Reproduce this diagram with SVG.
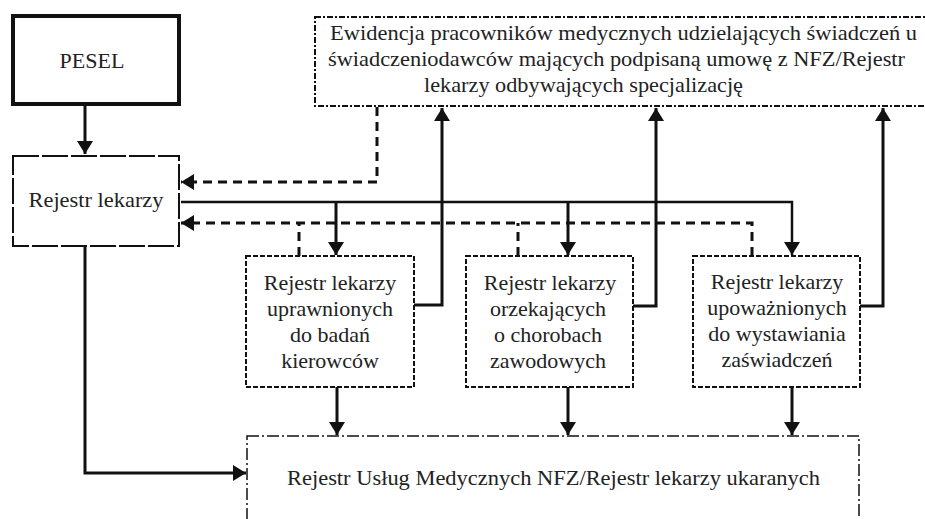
<svg xmlns="http://www.w3.org/2000/svg" width="925" height="519" viewBox="0 0 925 519">
  <defs>
    <marker id="arrow" markerUnits="userSpaceOnUse" markerWidth="14" markerHeight="16" refX="13" refY="8" orient="auto">
      <path d="M0,0 L13,8 L0,16 z" fill="#111"/>
    </marker>
    <style>
      text { font-family: "Liberation Serif", "Times New Roman", serif; font-size: 22px; fill: #222; }
      .c { text-anchor: middle; }
      .solid { fill: none; stroke: #111; stroke-width: 3; }
      .thin { fill: none; stroke: #111; stroke-width: 2.5; }
      .dash { fill: none; stroke: #111; stroke-width: 3; stroke-dasharray: 9 6; }
      .pesel { fill: #fff; stroke: #111; stroke-width: 4; }
      .reg { fill: #fff; stroke: #111; stroke-width: 2; stroke-dasharray: 26 3; }
      .sub { fill: #fff; stroke: #111; stroke-width: 2; stroke-dasharray: 5 2; }
      .top { fill: #fff; stroke: #111; stroke-width: 2; stroke-dasharray: 6 2 2 2; }
      .bot { fill: #fff; stroke: #111; stroke-width: 1.5; stroke-dasharray: 12 3 2 3; }
    </style>
  </defs>
  <rect width="925" height="519" fill="#fff"/>

  <g id="connectors">
    <path class="solid" d="M85,106 V154" marker-end="url(#arrow)"/>
    <path class="dash" d="M377,107 V182 H181" marker-end="url(#arrow)"/>
    <path class="thin" d="M181,202 H792 V255" marker-end="url(#arrow)"/>
    <path class="solid" d="M336,202 V255" marker-end="url(#arrow)"/>
    <path class="solid" d="M568,202 V255" marker-end="url(#arrow)"/>
    <path class="dash" d="M752,256 V223 H181" marker-end="url(#arrow)"/>
    <path class="dash" d="M299,256 V223"/>
    <path class="dash" d="M518,256 V223"/>
    <path class="solid" d="M414,305 H442 V108" marker-end="url(#arrow)"/>
    <path class="solid" d="M633,306 H656 V108" marker-end="url(#arrow)"/>
    <path class="solid" d="M860,306 H883 V108" marker-end="url(#arrow)"/>
    <path class="solid" d="M337,387 V435" marker-end="url(#arrow)"/>
    <path class="solid" d="M568,387 V435" marker-end="url(#arrow)"/>
    <path class="solid" d="M792,387 V435" marker-end="url(#arrow)"/>
    <path class="solid" d="M85,246 V473 H246" marker-end="url(#arrow)"/>
  </g>

  <g id="pesel">
    <rect class="pesel" x="13" y="16" width="166" height="88"/>
    <text x="92" y="68" class="c">PESEL</text>
  </g>

  <g id="rejestr-lekarzy">
    <rect class="reg" x="13" y="156" width="166" height="90"/>
    <text x="96" y="207" class="c" textLength="135" lengthAdjust="spacingAndGlyphs">Rejestr lekarzy</text>
  </g>

  <g id="ewidencja">
    <rect class="top" x="315" y="17" width="620" height="89"/>
    <text x="330" y="40" textLength="587" lengthAdjust="spacingAndGlyphs">Ewidencja pracowników medycznych udzielających świadczeń u</text>
    <text x="328" y="66" textLength="577" lengthAdjust="spacingAndGlyphs">świadczeniodawców mających podpisaną umowę z NFZ/Rejestr</text>
    <text x="424" y="92" textLength="319" lengthAdjust="spacingAndGlyphs">lekarzy odbywających specjalizację</text>
  </g>

  <g id="rejestr-kierowcow">
    <rect class="sub" x="246" y="256" width="168" height="131"/>
    <text x="330" y="290" class="c">Rejestr lekarzy</text>
    <text x="330" y="316" class="c">uprawnionych</text>
    <text x="330" y="342" class="c">do badań</text>
    <text x="330" y="368" class="c">kierowców</text>
  </g>

  <g id="rejestr-choroby">
    <rect class="sub" x="466" y="256" width="167" height="131"/>
    <text x="550" y="290" class="c">Rejestr lekarzy</text>
    <text x="548" y="316" class="c">orzekających</text>
    <text x="548" y="342" class="c">o chorobach</text>
    <text x="548" y="368" class="c">zawodowych</text>
  </g>

  <g id="rejestr-zaswiadczenia">
    <rect class="sub" x="693" y="256" width="167" height="131"/>
    <text x="777" y="289" class="c">Rejestr lekarzy</text>
    <text x="777" y="315" class="c">upoważnionych</text>
    <text x="777" y="341" class="c">do wystawiania</text>
    <text x="777" y="367" class="c">zaświadczeń</text>
  </g>

  <g id="rejestr-uslug">
    <rect class="bot" x="247" y="436" width="612" height="100"/>
    <text x="287" y="485" textLength="533" lengthAdjust="spacingAndGlyphs">Rejestr Usług Medycznych NFZ/Rejestr lekarzy ukaranych</text>
  </g>
</svg>
